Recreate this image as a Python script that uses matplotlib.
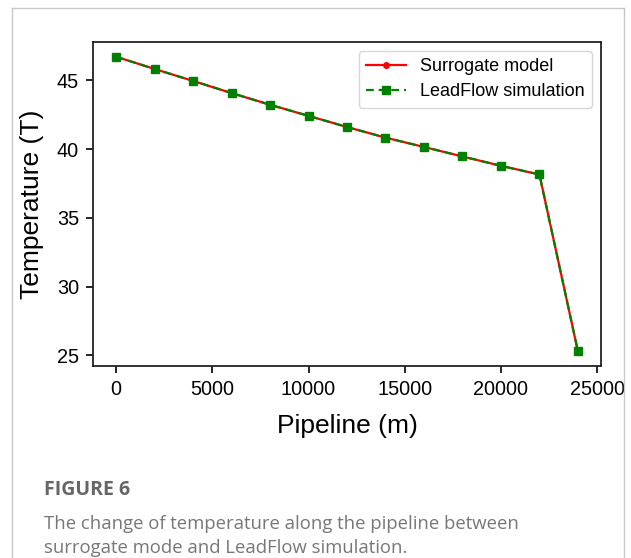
import matplotlib
matplotlib.use("Agg")
import matplotlib.pyplot as plt
from matplotlib.lines import Line2D

# Data
pipeline_m = [0, 2000, 4000, 6000, 8000, 10000, 12000, 14000, 16000, 18000, 20000, 22000, 24000]
surrogate_T = [46.71, 45.82, 44.95, 44.07, 43.22, 42.41, 41.60, 40.83, 40.15, 39.46, 38.78, 38.15, 25.30]
leadflow_T = [46.71, 45.82, 44.95, 44.07, 43.22, 42.41, 41.60, 40.83, 40.15, 39.46, 38.78, 38.15, 25.30]
x_ticks = [0, 5000, 10000, 15000, 20000, 25000]
y_ticks = [25, 30, 35, 40, 45]

W, H = 631, 558
fig = plt.figure(figsize=(W / 100, H / 100), dpi=100)
fig.patch.set_facecolor("white")

# outer frame (light gray, open at bottom)
fc = "#c8c8c8"
fig.add_artist(Line2D([12 / W, 12 / W], [0, 1 - 8 / H], transform=fig.transFigure, color=fc, lw=1.0))
fig.add_artist(Line2D([12 / W, 624 / W], [1 - 8 / H, 1 - 8 / H], transform=fig.transFigure, color=fc, lw=1.0))
fig.add_artist(Line2D([624 / W, 624 / W], [0, 1 - 8 / H], transform=fig.transFigure, color=fc, lw=1.0))

left, right, top, bottom = 93, 601, 42, 366
ax = fig.add_axes([left / W, 1 - bottom / H, (right - left) / W, (bottom - top) / H])

font = "Liberation Sans"
ax.plot(pipeline_m, surrogate_T, color="red", lw=1.6, marker="o", ms=4, label="Surrogate model", zorder=3)
ax.plot(pipeline_m, leadflow_T, color="green", lw=1.6, ls=(0, (3.5, 2.2)), marker="s", ms=5.5,
        label="LeadFlow simulation", zorder=4)

ax.set_xticks(x_ticks)
ax.set_yticks(y_ticks)
ax.tick_params(axis="both", labelsize=14.3, length=5, width=1.2, color="black", direction="out", pad=5)
for lab in ax.get_xticklabels() + ax.get_yticklabels():
    lab.set_fontfamily(font)
for s in ax.spines.values():
    s.set_linewidth(1.3)
    s.set_color("#222222")

ax.set_xlabel("Pipeline (m)", fontsize=19, family=font, labelpad=11)
ax.set_ylabel("Temperature (T)", fontsize=19, family=font, labelpad=9)

leg = ax.legend(loc="upper right", prop={"family": font, "size": 13}, frameon=True,
                handlelength=2.2, borderpad=0.4, labelspacing=0.45, handletextpad=0.8,
                borderaxespad=0.5)
leg.get_frame().set_edgecolor("#cccccc")
leg.get_frame().set_linewidth(1.0)

# caption
cap_font = ["Open Sans", "DejaVu Sans"]
fig.text(44 / W, 1 - 490 / H, "FIGURE 6", fontsize=14, fontweight="bold", color="#666666",
         family=cap_font, va="center", ha="left")
fig.text(44 / W, 1 - 524 / H, "The change of temperature along the pipeline between", fontsize=13.35,
         color="#777777", family=cap_font, va="center", ha="left")
fig.text(44 / W, 1 - 548 / H, "surrogate mode and LeadFlow simulation.", fontsize=13.35,
         color="#777777", family=cap_font, va="center", ha="left")

fig.savefig("out.png", dpi=100, facecolor="white")
